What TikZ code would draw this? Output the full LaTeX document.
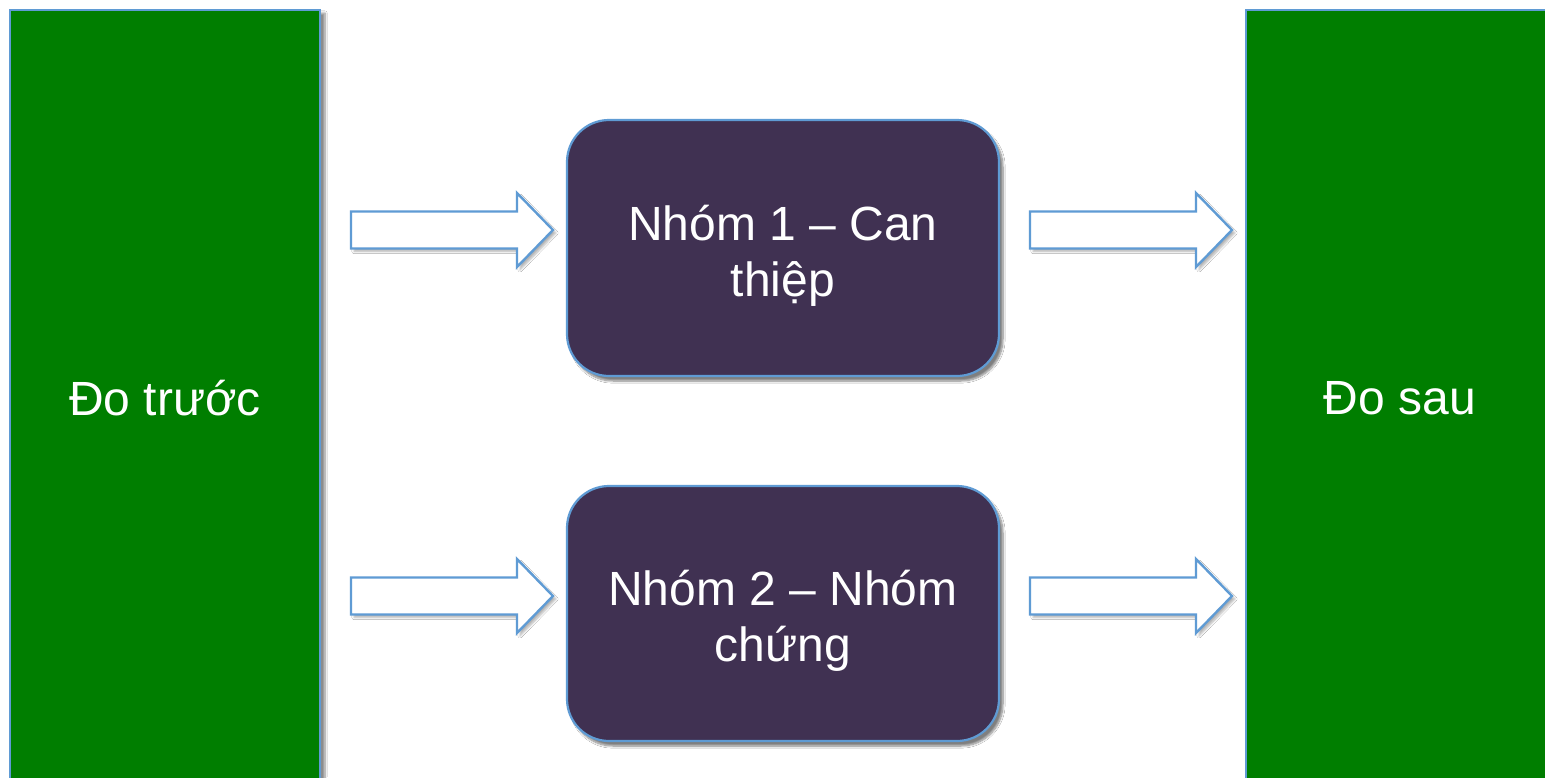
\documentclass[tikz,border=0pt]{standalone}
\usepackage{fontspec}
\setmainfont{Liberation Sans}
\usetikzlibrary{shadows.blur}
\definecolor{panelgreen}{RGB}{0,126,0}
\definecolor{edgeblue}{RGB}{95,155,212}
\definecolor{groupfill}{RGB}{64,49,82}
\tikzset{
  panel/.style={fill=panelgreen, draw=edgeblue, line width=2pt,
    blur shadow={shadow xshift=5pt, shadow yshift=-3pt, shadow blur steps=8, shadow opacity=45}},
  groupbox/.style={fill=groupfill, draw=edgeblue, line width=2.2pt, rounded corners=42pt,
    blur shadow={shadow xshift=4pt, shadow yshift=-5pt, shadow blur steps=8, shadow opacity=50}},
  blockarrow/.style={fill=white, draw=edgeblue, line width=2.4pt, line join=miter,
    blur shadow={shadow xshift=3pt, shadow yshift=-3pt, shadow blur steps=5, shadow opacity=30}},
  label/.style={text=white, font=\fontsize{48}{56}\selectfont, align=center}
}
\begin{document}
\begin{tikzpicture}[x=1pt,y=-1pt]
\useasboundingbox (0,0) rectangle (1545,777);
\fill[white] (0,0) rectangle (1545,777);
\begin{scope}
\clip (0,0) rectangle (1545,777);
% measurement panels
\path[panel] (10,10) rectangle (320,800);
\node[label] (pre) at (165,398) {Đo trước};
\path[panel] (1246,10) rectangle (1570,800);
\node[label] (post) at (1400,398) {Đo sau};
% group boxes
\path[groupbox] (567,120) rectangle (999,376);
\node[label] (g1) at (783,256) {Nhóm 1 – Can\\thiệp};
\path[groupbox] (567,486) rectangle (999,741);
\node[label] (g2) at (783,621) {Nhóm 2 – Nhóm\\chứng};
% block arrows
\foreach \x/\y in {351/230, 351/596, 1030/230, 1030/596}{
  \path[blockarrow] (\x,\y-18.5) -- ++(166,0) -- ++(0,-18.5) -- ++(36,37) -- ++(-36,37)
     -- ++(0,-18.5) -- ++(-166,0) -- cycle;
}
\end{scope}
\end{tikzpicture}
\end{document}
